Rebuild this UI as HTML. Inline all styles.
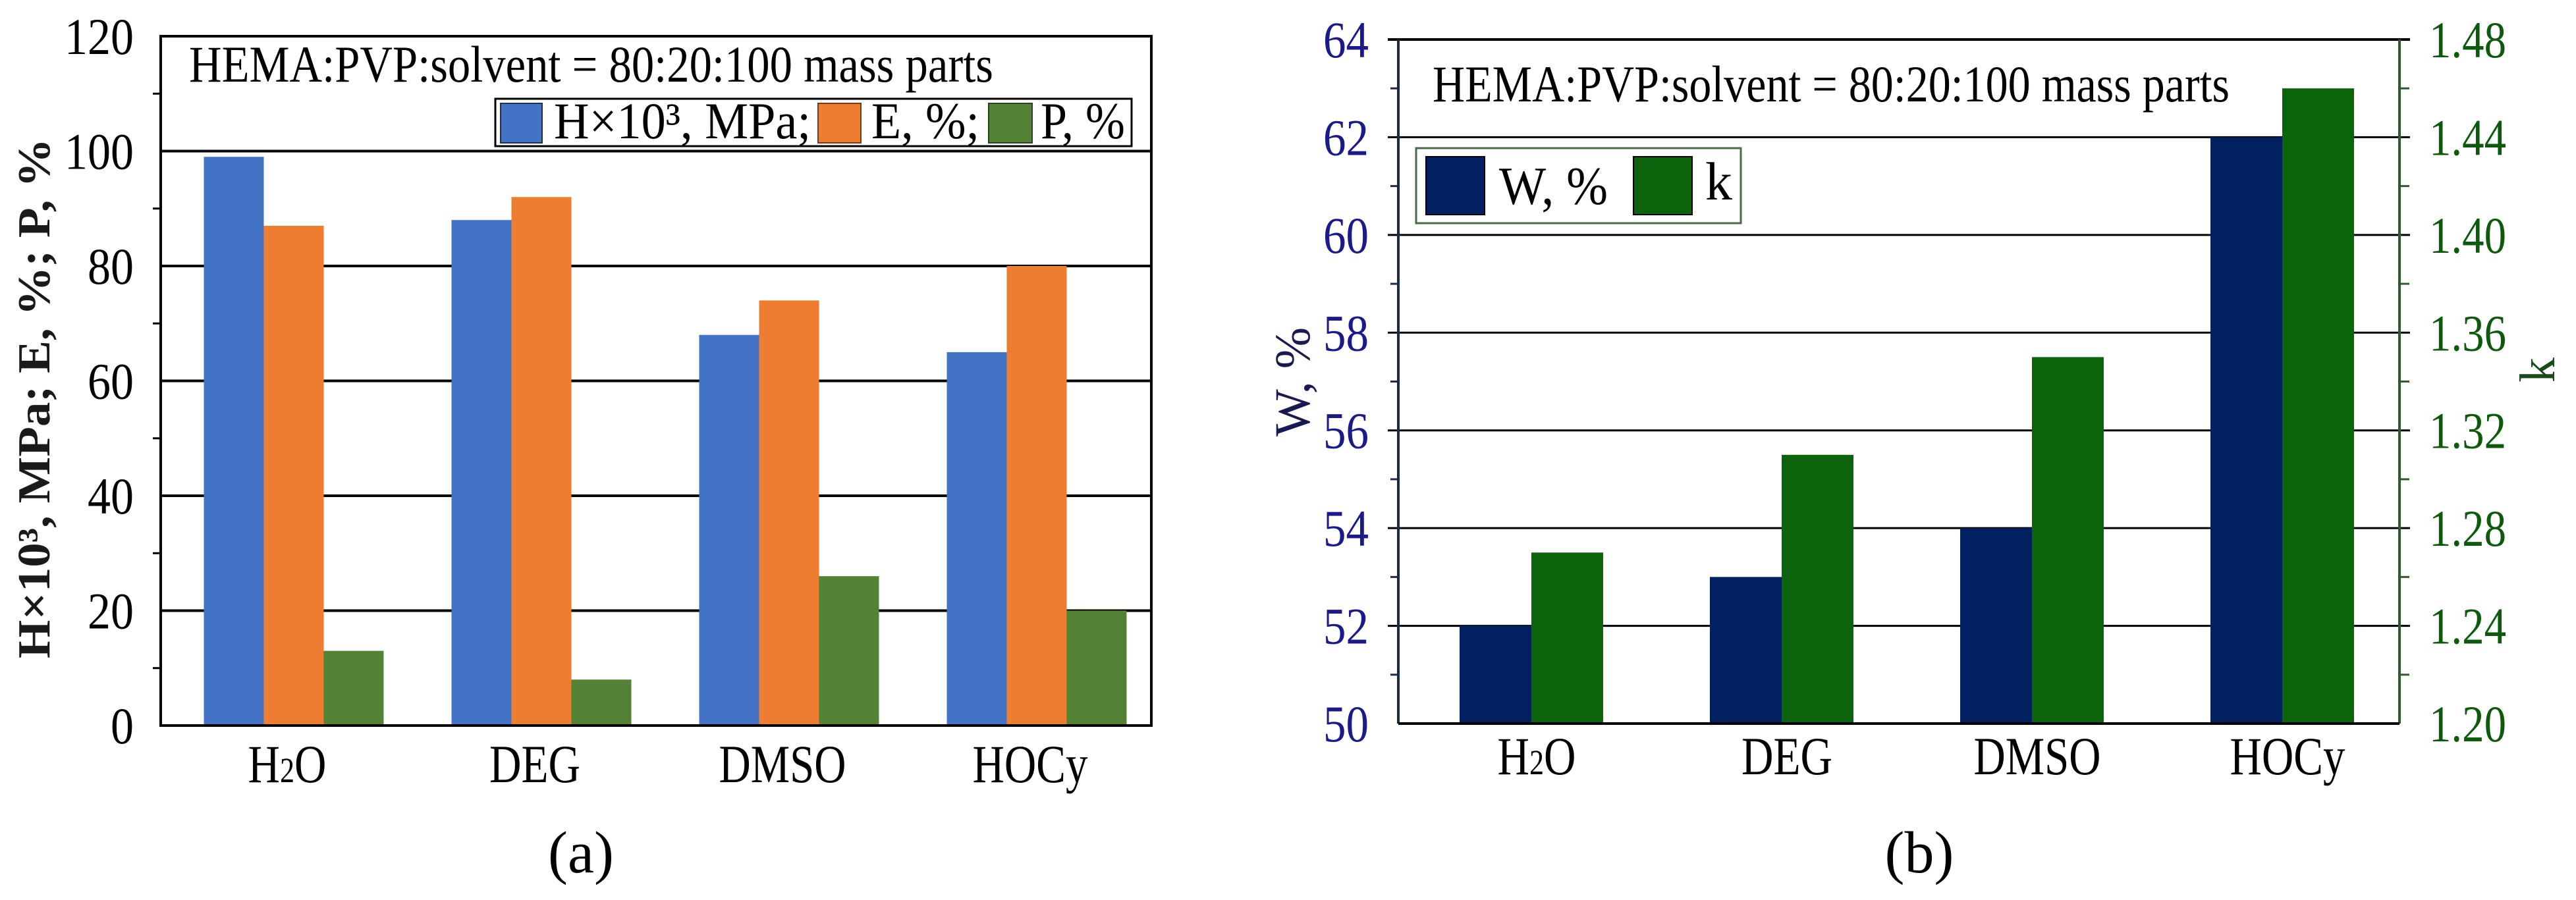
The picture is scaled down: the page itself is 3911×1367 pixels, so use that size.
<!DOCTYPE html>
<html><head><meta charset="utf-8"><style>
html,body{margin:0;padding:0;background:#fff;}
svg{display:block;}
svg text{font-family:"Liberation Serif","DejaVu Serif",serif;}
</style></head><body>
<svg id="fig" width="3911" height="1367" viewBox="0 0 3911 1367" xmlns="http://www.w3.org/2000/svg">
<g id="chartA"></g>
<g id="chartB"></g>
</svg>
<script>
const categories = ["H2O","DEG","DMSO","HOCy"];
const hValues = [99, 88, 68, 65];
const eValues = [87, 92, 74, 80];
const pValues = [13, 8, 26, 20];
const aTicks = [0,20,40,60,80,100,120];
const wValues = [52, 53, 54, 62];
const kValues = [1.27, 1.31, 1.35, 1.46];
const wTicks = [50,52,54,56,58,60,62,64];
const kTicks = ["1.20","1.24","1.28","1.32","1.36","1.40","1.44","1.48"];

const NS="http://www.w3.org/2000/svg";
const FF='"Liberation Serif","DejaVu Serif",serif';
function el(parent,tag,attrs,text){const e=document.createElementNS(NS,tag);for(const k in attrs)e.setAttribute(k,attrs[k]);if(tag==='text')e.setAttribute('font-family',FF);if(text!==undefined)e.textContent=text;parent.appendChild(e);return e;}
const labelW={"H2O":119,"DEG":138,"DMSO":193,"HOCy":175};
function catLabel(parent,c,x,y){
  const t=el(parent,'text',{x:x,y:y,'font-size':82,'text-anchor':'middle',textLength:labelW[c],lengthAdjust:'spacingAndGlyphs'});
  
  
  if(c==='H2O'){t.innerHTML='H<tspan font-size="54">2</tspan>O';}else t.textContent=c;
}

// ---------- Chart A ----------
const A=document.getElementById('chartA');
const aL=244,aR=1748,aT=55,aB=1102,aMax=120;
const ay=v=>aB-(v/aMax)*(aB-aT);
const agw=(aR-aL)/4;
const ax=i=>aL+agw*(i+0.5)+14;
const abw=91;
for(let v=10;v<aMax;v+=20){const t=el(A,'line',{x1:aL-12,x2:aL,y1:ay(v),y2:ay(v),stroke:'#000','stroke-width':3});

}
aTicks.forEach(v=>{
  if(v>0&&v<aMax){const g=el(A,'line',{x1:aL,x2:aR,y1:ay(v),y2:ay(v),stroke:'#000','stroke-width':4});
  
  }
  const s=String(v);
  const t=el(A,'text',{x:203,y:ay(v)+27,'text-anchor':'end','font-size':78,textLength:s.length*35,lengthAdjust:'spacingAndGlyphs'},s);
  
  
});
const aSeries=[[hValues,'#4472c4','bar-h'],[eValues,'#ed7d31','bar-e'],[pValues,'#548235','bar-p']];
categories.forEach((c,i)=>{
  aSeries.forEach((s,j)=>{
    const v=s[0][i];
    const r=el(A,'rect',{x:ax(i)-1.5*abw+j*abw,y:ay(v),width:abw,height:aB-ay(v),fill:s[1]});
    
    
  });
});
el(A,'rect',{x:aL,y:aT,width:aR-aL,height:aB-aT,fill:'none',stroke:'#000','stroke-width':4,});
el(A,'text',{x:287,y:124,'font-size':78,textLength:1221,lengthAdjust:'spacingAndGlyphs',},'HEMA:PVP:solvent = 80:20:100 mass parts');
el(A,'rect',{x:752,y:150,width:966,height:72,fill:'#fff',stroke:'#000','stroke-width':3,});
el(A,'rect',{x:760,y:157,width:63,height:60,fill:'#4472c4',stroke:'#1f2f50','stroke-width':2,});
el(A,'text',{x:841,y:210,'font-size':78,textLength:390,lengthAdjust:'spacingAndGlyphs',},'H×10³, MPa;');
el(A,'rect',{x:1242,y:157,width:65,height:60,fill:'#ed7d31',stroke:'#7a3a10','stroke-width':2,});
el(A,'text',{x:1323,y:210,'font-size':78,textLength:164,lengthAdjust:'spacingAndGlyphs',},'E, %;');
el(A,'rect',{x:1501,y:157,width:66,height:60,fill:'#548235',stroke:'#2a4020','stroke-width':2,});
el(A,'text',{x:1580,y:210,'font-size':78,textLength:128,lengthAdjust:'spacingAndGlyphs',},'P, %');
el(A,'text',{x:0,y:0,'font-size':70,'font-weight':'bold','text-anchor':'middle',fill:'#1a1a1a',transform:'translate(75,605) rotate(-90)',textLength:790,lengthAdjust:'spacingAndGlyphs',},'H×10³, MPa;   E, %;   P, %');
categories.forEach((c,i)=>catLabel(A,c,ax(i)-10,1188));
el(A,'text',{x:882,y:1325,'font-size':90,'text-anchor':'middle',},'(a)');

// ---------- Chart B ----------
const B=document.getElementById('chartB');
const bL=2123,bR=3643,bT=60,bB=1099,wMin=50,wMax=64,kMin=1.20,kMax=1.48;
const wy=v=>bB-(v-wMin)/(wMax-wMin)*(bB-bT);
const ky=v=>bB-(v-kMin)/(kMax-kMin)*(bB-bT);
const bgw=(bR-bL)/4;
const bx=i=>bL+bgw*(i+0.5)+12;
const bbw=109;
for(let v=wMin+1;v<wMax;v+=2){
  const t=el(B,'line',{x1:bL-12,x2:bL,y1:wy(v),y2:wy(v),stroke:'#1a2a4a','stroke-width':3});
  
  
  const t2=el(B,'line',{x1:bR,x2:bR+15,y1:wy(v),y2:wy(v),stroke:'#2e5a2e','stroke-width':3});
  
  
}
wTicks.forEach(v=>{
  if(v>wMin){const g=el(B,'line',{x1:bL-16,x2:bR+16,y1:wy(v),y2:wy(v),stroke:'#000','stroke-width':v===wMax?4:3});
  
  }
  const t=el(B,'text',{x:2078,y:wy(v)+27,'text-anchor':'end','font-size':78,fill:'#1a1a8c',textLength:69,lengthAdjust:'spacingAndGlyphs'},String(v));
  
  
});
kTicks.forEach(s=>{
  const t=el(B,'text',{x:3688,y:ky(parseFloat(s))+27,'font-size':78,fill:'#0d5a0d',textLength:117,lengthAdjust:'spacingAndGlyphs'},s);
  
  
});
categories.forEach((c,i)=>{
  const r=el(B,'rect',{x:bx(i)-bbw,y:wy(wValues[i]),width:bbw,height:bB-wy(wValues[i]),fill:'#002060'});
  
  
  const r2=el(B,'rect',{x:bx(i),y:ky(kValues[i]),width:bbw,height:bB-ky(kValues[i]),fill:'#0b640b'});
  
  
});
el(B,'line',{x1:bL,x2:bL,y1:bT,y2:bB,stroke:'#1a2a4a','stroke-width':4,});
el(B,'line',{x1:bR,x2:bR,y1:bT,y2:bB,stroke:'#2e5a2e','stroke-width':4,});
el(B,'line',{x1:bL,x2:bR,y1:bB,y2:bB,stroke:'#000','stroke-width':4,});
el(B,'text',{x:2175,y:154,'font-size':78,textLength:1210,lengthAdjust:'spacingAndGlyphs',},'HEMA:PVP:solvent = 80:20:100 mass parts');
el(B,'rect',{x:2150,y:225,width:493,height:114,fill:'#fff',stroke:'#4a6a4a','stroke-width':3,});
el(B,'rect',{x:2165,y:238,width:89,height:88,fill:'#002060',stroke:'#000','stroke-width':2,});
el(B,'text',{x:2276,y:310,'font-size':82,textLength:165,lengthAdjust:'spacingAndGlyphs',},'W, %');
el(B,'rect',{x:2480,y:238,width:89,height:88,fill:'#0b640b',stroke:'#000','stroke-width':2,});
el(B,'text',{x:2589,y:303,'font-size':82,},'k');
el(B,'text',{x:0,y:0,'font-size':76,'text-anchor':'middle',fill:'#1a1a50',transform:'translate(1988,580) rotate(-90)',},'W, %');
el(B,'text',{x:0,y:0,'font-size':76,'text-anchor':'middle',fill:'#1a4a1a',transform:'translate(3878,562) rotate(-90)',},'k');
categories.forEach((c,i)=>catLabel(B,c,bx(i)+8,1176));
el(B,'text',{x:2914,y:1325,'font-size':90,'text-anchor':'middle',},'(b)');
</script>
</body></html>
